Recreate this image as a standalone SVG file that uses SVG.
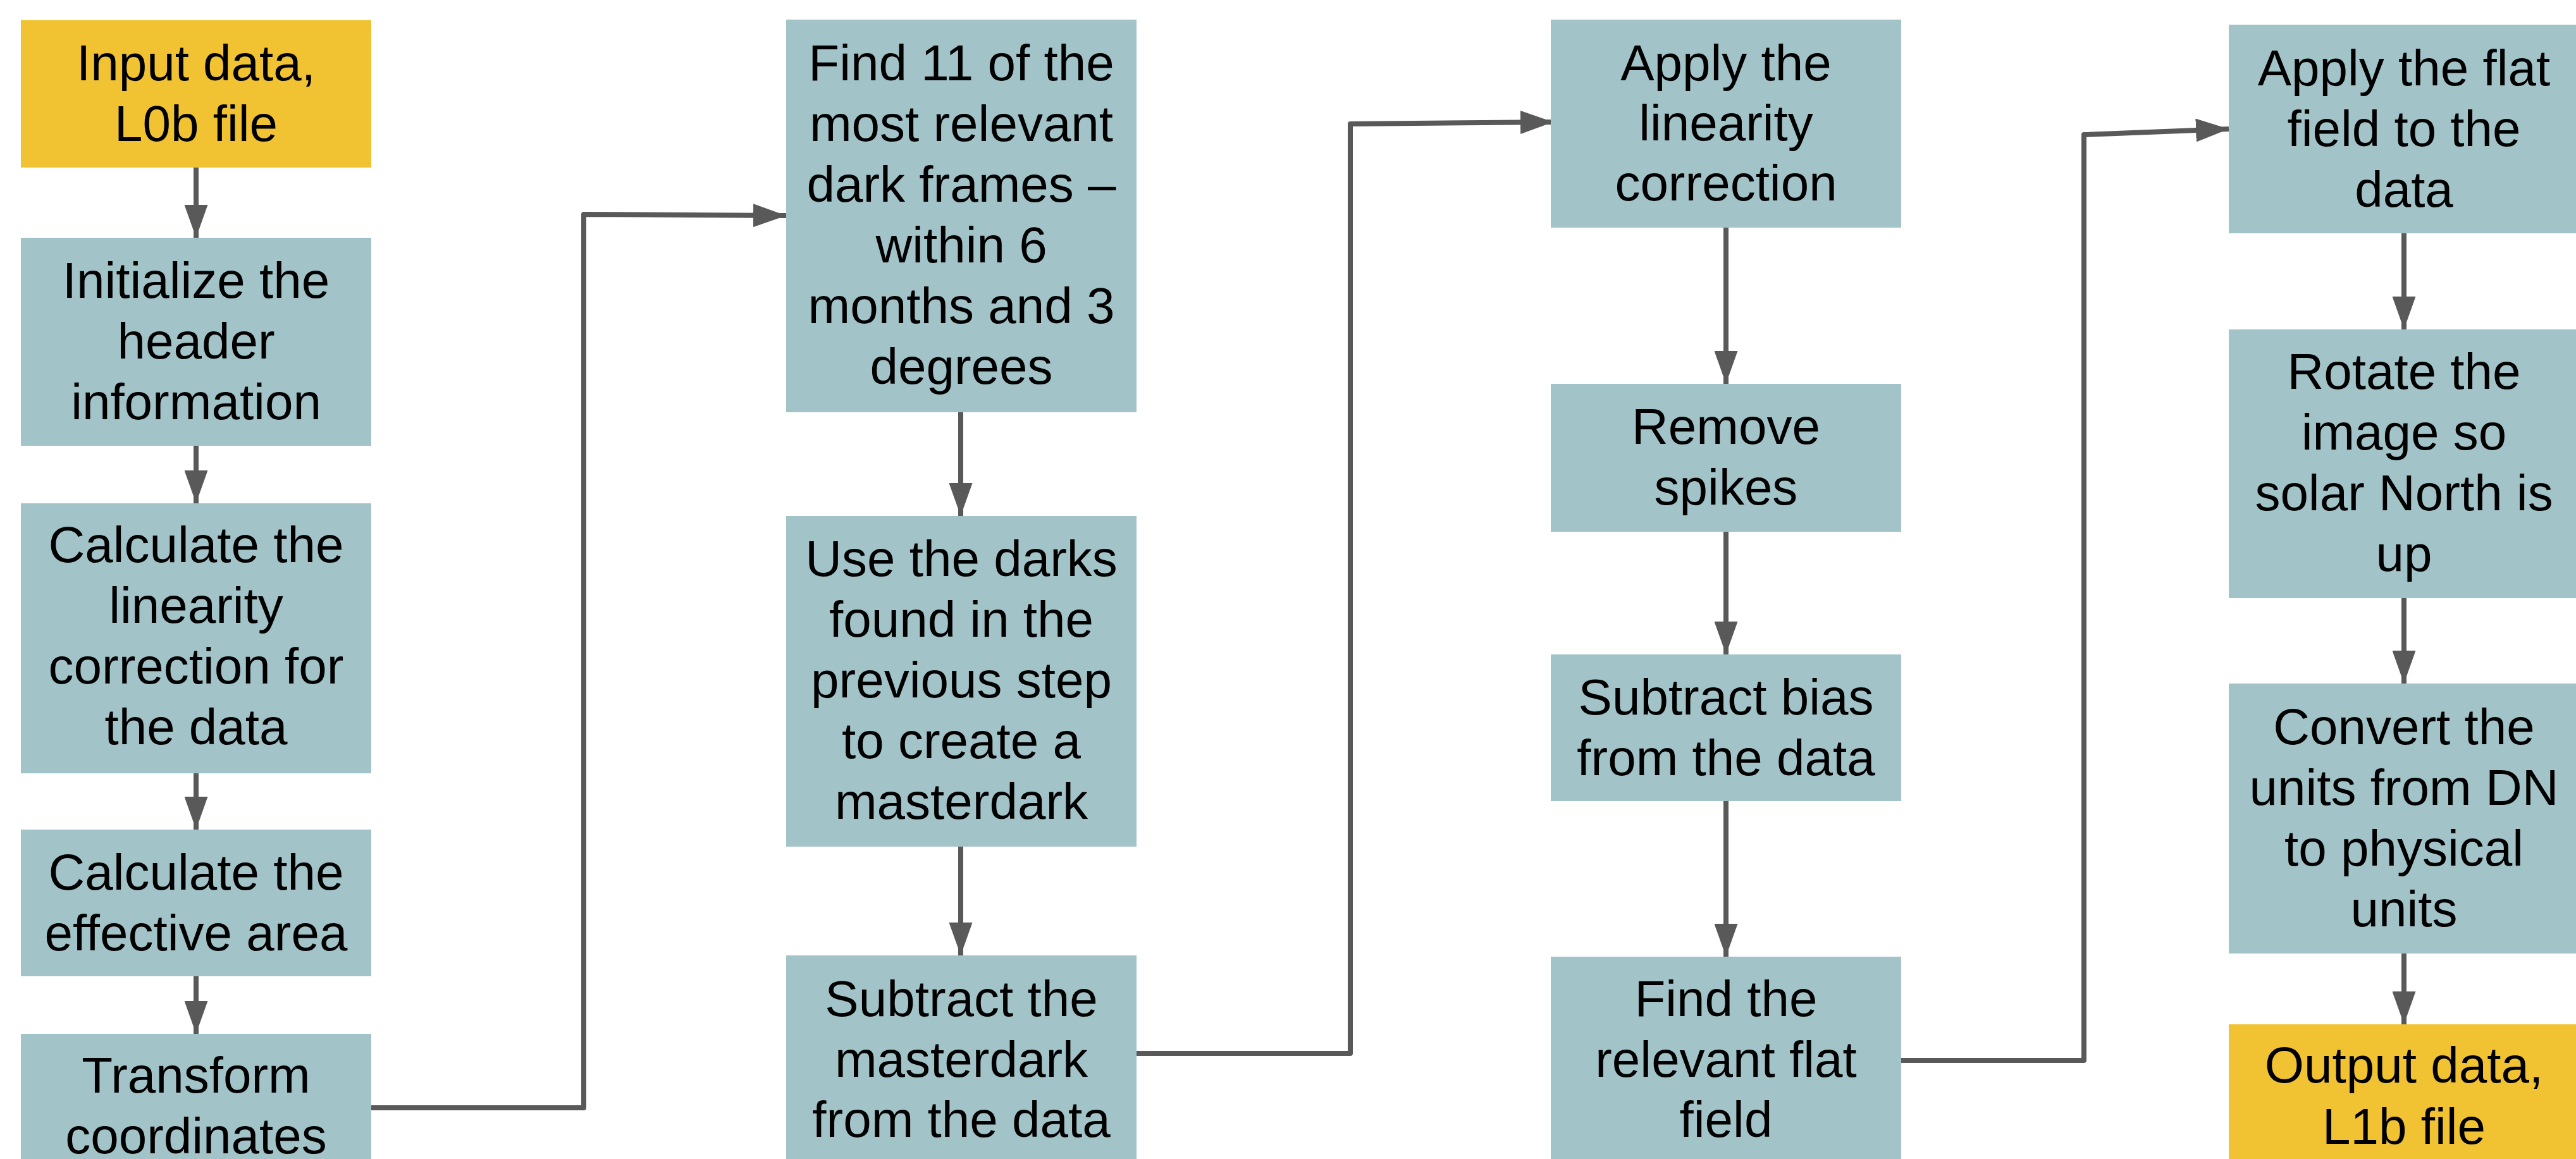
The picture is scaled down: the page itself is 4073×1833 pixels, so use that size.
<svg xmlns="http://www.w3.org/2000/svg" width="4073" height="1833" viewBox="0 0 4073 1833">
<defs>
<style>
.step{fill:#A2C4C9}
.io{fill:#F1C232}
text{font-family:"Liberation Sans",Arial,sans-serif;font-size:80px;fill:#000;text-anchor:middle}
.c{fill:none;stroke:#595959;stroke-width:8;stroke-linejoin:round;stroke-linecap:butt}
</style>
<marker id="ah" markerUnits="userSpaceOnUse" markerWidth="52" markerHeight="37" refX="52" refY="18.5" orient="auto" viewBox="0 0 52 37">
<path d="M0,0 L52,18.5 L0,37 z" fill="#595959"/>
</marker>
</defs>
<rect width="4073" height="1833" fill="#fff"/>

<g id="connectors">
<line class="c" x1="310" y1="265" x2="310" y2="376" marker-end="url(#ah)"/>
<line class="c" x1="310" y1="705" x2="310" y2="796" marker-end="url(#ah)"/>
<line class="c" x1="310" y1="1223" x2="310" y2="1312" marker-end="url(#ah)"/>
<line class="c" x1="310" y1="1544" x2="310" y2="1635" marker-end="url(#ah)"/>
<polyline class="c" points="587,1752 923,1752 923,339 1243,341" marker-end="url(#ah)"/>
<line class="c" x1="1519" y1="652" x2="1519" y2="816" marker-end="url(#ah)"/>
<line class="c" x1="1519" y1="1339" x2="1519" y2="1511" marker-end="url(#ah)"/>
<polyline class="c" points="1797,1666 2135,1666 2135,196 2456,193" marker-end="url(#ah)"/>
<line class="c" x1="2729" y1="360" x2="2729" y2="607" marker-end="url(#ah)"/>
<line class="c" x1="2729" y1="841" x2="2729" y2="1035" marker-end="url(#ah)"/>
<line class="c" x1="2729" y1="1267" x2="2729" y2="1513" marker-end="url(#ah)"/>
<polyline class="c" points="3006,1677 3295,1677 3295,213 3524,204" marker-end="url(#ah)"/>
<line class="c" x1="3801" y1="369" x2="3801" y2="521" marker-end="url(#ah)"/>
<line class="c" x1="3801" y1="946" x2="3801" y2="1081" marker-end="url(#ah)"/>
<line class="c" x1="3801" y1="1508" x2="3801" y2="1620" marker-end="url(#ah)"/>
</g>

<g id="input">
<rect class="io" x="33" y="32" width="554" height="233"/>
<text x="310" y="127">Input data,</text>
<text x="310" y="223">L0b file</text>
</g>
<g id="init-header">
<rect class="step" x="33" y="376" width="554" height="329"/>
<text x="310" y="471">Initialize the</text>
<text x="310" y="567">header</text>
<text x="310" y="663">information</text>
</g>
<g id="calc-linearity">
<rect class="step" x="33" y="796" width="554" height="427"/>
<text x="310" y="889">Calculate the</text>
<text x="310" y="985">linearity</text>
<text x="310" y="1081">correction for</text>
<text x="310" y="1177">the data</text>
</g>
<g id="calc-area">
<rect class="step" x="33" y="1312" width="554" height="232"/>
<text x="310" y="1407">Calculate the</text>
<text x="310" y="1503">effective area</text>
</g>
<g id="transform">
<rect class="step" x="33" y="1635" width="554" height="260"/>
<text x="310" y="1728">Transform</text>
<text x="310" y="1824">coordinates</text>
</g>

<g id="find-darks">
<rect class="step" x="1243" y="31" width="554" height="621"/>
<text x="1520" y="127">Find 11 of the</text>
<text x="1520" y="223">most relevant</text>
<text x="1520" y="319">dark frames –</text>
<text x="1520" y="415">within 6</text>
<text x="1520" y="511">months and 3</text>
<text x="1520" y="607">degrees</text>
</g>
<g id="masterdark">
<rect class="step" x="1243" y="816" width="554" height="523"/>
<text x="1520" y="911">Use the darks</text>
<text x="1520" y="1007">found in the</text>
<text x="1520" y="1103">previous step</text>
<text x="1520" y="1199">to create a</text>
<text x="1520" y="1295">masterdark</text>
</g>
<g id="subtract-dark">
<rect class="step" x="1243" y="1511" width="554" height="380"/>
<text x="1520" y="1607">Subtract the</text>
<text x="1520" y="1703">masterdark</text>
<text x="1520" y="1798">from the data</text>
</g>

<g id="apply-linearity">
<rect class="step" x="2452" y="31" width="554" height="329"/>
<text x="2729" y="127">Apply the</text>
<text x="2729" y="222">linearity</text>
<text x="2729" y="317">correction</text>
</g>
<g id="remove-spikes">
<rect class="step" x="2452" y="607" width="554" height="234"/>
<text x="2729" y="702">Remove</text>
<text x="2729" y="798">spikes</text>
</g>
<g id="subtract-bias">
<rect class="step" x="2452" y="1035" width="554" height="232"/>
<text x="2729" y="1130">Subtract bias</text>
<text x="2729" y="1226">from the data</text>
</g>
<g id="find-flat">
<rect class="step" x="2452" y="1513" width="554" height="380"/>
<text x="2729" y="1607">Find the</text>
<text x="2729" y="1703">relevant flat</text>
<text x="2729" y="1798">field</text>
</g>

<g id="apply-flat">
<rect class="step" x="3524" y="39" width="560" height="330"/>
<text x="3801" y="135">Apply the flat</text>
<text x="3801" y="231">field to the</text>
<text x="3801" y="327">data</text>
</g>
<g id="rotate">
<rect class="step" x="3524" y="521" width="560" height="425"/>
<text x="3801" y="615">Rotate the</text>
<text x="3801" y="711">image so</text>
<text x="3801" y="807">solar North is</text>
<text x="3801" y="903">up</text>
</g>
<g id="convert-units">
<rect class="step" x="3524" y="1081" width="560" height="427"/>
<text x="3801" y="1177">Convert the</text>
<text x="3801" y="1273">units from DN</text>
<text x="3801" y="1369">to physical</text>
<text x="3801" y="1465">units</text>
</g>
<g id="output">
<rect class="io" x="3524" y="1620" width="560" height="260"/>
<text x="3801" y="1712">Output data,</text>
<text x="3801" y="1809">L1b file</text>
</g>
</svg>
